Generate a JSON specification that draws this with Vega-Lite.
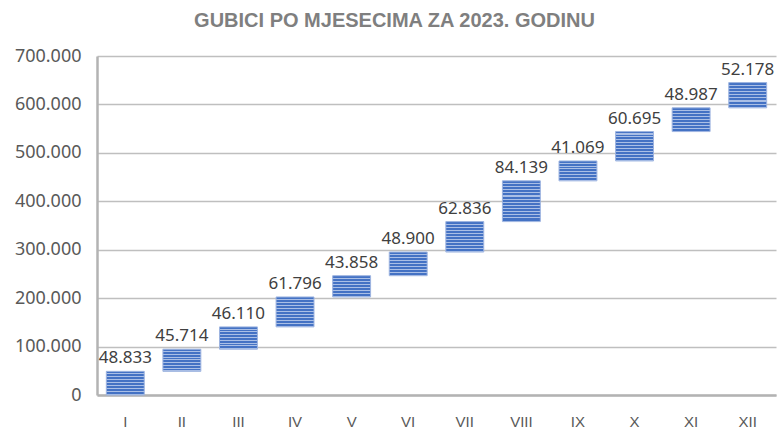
{
  "$schema": "https://vega.github.io/schema/vega-lite/v6.json",
  "width": 679,
  "height": 339,
  "autosize": {"type": "none"},
  "padding": {"left": 97, "top": 56, "right": 3, "bottom": 34},
  "background": "white",
  "title": {
    "text": "GUBICI PO MJESECIMA ZA 2023. GODINU",
    "font": "Liberation Sans",
    "fontSize": 20,
    "fontWeight": "bold",
    "color": "#7f7f7f",
    "anchor": "middle",
    "dx": -42,
    "offset": 16
  },
  "config": {
    "view": {"stroke": null}
  },
  "params": [
    {"name": "g7", "value": {"gradient": "linear", "x1": 0, "y1": 0, "x2": 0, "y2": 1, "stops": [
      {"offset": 0, "color": "#4472c4"}, {"offset": 0.0929, "color": "#4472c4"}, {"offset": 0.0929, "color": "#aabfe6"}, {"offset": 0.1429, "color": "#aabfe6"},
      {"offset": 0.1429, "color": "#4472c4"}, {"offset": 0.2357, "color": "#4472c4"}, {"offset": 0.2357, "color": "#aabfe6"}, {"offset": 0.2857, "color": "#aabfe6"},
      {"offset": 0.2857, "color": "#4472c4"}, {"offset": 0.3786, "color": "#4472c4"}, {"offset": 0.3786, "color": "#aabfe6"}, {"offset": 0.4286, "color": "#aabfe6"},
      {"offset": 0.4286, "color": "#4472c4"}, {"offset": 0.5214, "color": "#4472c4"}, {"offset": 0.5214, "color": "#aabfe6"}, {"offset": 0.5714, "color": "#aabfe6"},
      {"offset": 0.5714, "color": "#4472c4"}, {"offset": 0.6643, "color": "#4472c4"}, {"offset": 0.6643, "color": "#aabfe6"}, {"offset": 0.7143, "color": "#aabfe6"},
      {"offset": 0.7143, "color": "#4472c4"}, {"offset": 0.8071, "color": "#4472c4"}, {"offset": 0.8071, "color": "#aabfe6"}, {"offset": 0.8571, "color": "#aabfe6"},
      {"offset": 0.8571, "color": "#4472c4"}, {"offset": 0.95, "color": "#4472c4"}, {"offset": 0.95, "color": "#aabfe6"}, {"offset": 1, "color": "#aabfe6"}
    ]}},
    {"name": "g8", "value": {"gradient": "linear", "x1": 0, "y1": 0, "x2": 0, "y2": 1, "stops": [
      {"offset": 0, "color": "#4472c4"}, {"offset": 0.0813, "color": "#4472c4"}, {"offset": 0.0813, "color": "#aabfe6"}, {"offset": 0.125, "color": "#aabfe6"},
      {"offset": 0.125, "color": "#4472c4"}, {"offset": 0.2063, "color": "#4472c4"}, {"offset": 0.2063, "color": "#aabfe6"}, {"offset": 0.25, "color": "#aabfe6"},
      {"offset": 0.25, "color": "#4472c4"}, {"offset": 0.3313, "color": "#4472c4"}, {"offset": 0.3313, "color": "#aabfe6"}, {"offset": 0.375, "color": "#aabfe6"},
      {"offset": 0.375, "color": "#4472c4"}, {"offset": 0.4563, "color": "#4472c4"}, {"offset": 0.4563, "color": "#aabfe6"}, {"offset": 0.5, "color": "#aabfe6"},
      {"offset": 0.5, "color": "#4472c4"}, {"offset": 0.5813, "color": "#4472c4"}, {"offset": 0.5813, "color": "#aabfe6"}, {"offset": 0.625, "color": "#aabfe6"},
      {"offset": 0.625, "color": "#4472c4"}, {"offset": 0.7063, "color": "#4472c4"}, {"offset": 0.7063, "color": "#aabfe6"}, {"offset": 0.75, "color": "#aabfe6"},
      {"offset": 0.75, "color": "#4472c4"}, {"offset": 0.8313, "color": "#4472c4"}, {"offset": 0.8313, "color": "#aabfe6"}, {"offset": 0.875, "color": "#aabfe6"},
      {"offset": 0.875, "color": "#4472c4"}, {"offset": 0.9563, "color": "#4472c4"}, {"offset": 0.9563, "color": "#aabfe6"}, {"offset": 1, "color": "#aabfe6"}
    ]}},
    {"name": "g10", "value": {"gradient": "linear", "x1": 0, "y1": 0, "x2": 0, "y2": 1, "stops": [
      {"offset": 0, "color": "#4472c4"}, {"offset": 0.065, "color": "#4472c4"}, {"offset": 0.065, "color": "#aabfe6"}, {"offset": 0.1, "color": "#aabfe6"},
      {"offset": 0.1, "color": "#4472c4"}, {"offset": 0.165, "color": "#4472c4"}, {"offset": 0.165, "color": "#aabfe6"}, {"offset": 0.2, "color": "#aabfe6"},
      {"offset": 0.2, "color": "#4472c4"}, {"offset": 0.265, "color": "#4472c4"}, {"offset": 0.265, "color": "#aabfe6"}, {"offset": 0.3, "color": "#aabfe6"},
      {"offset": 0.3, "color": "#4472c4"}, {"offset": 0.365, "color": "#4472c4"}, {"offset": 0.365, "color": "#aabfe6"}, {"offset": 0.4, "color": "#aabfe6"},
      {"offset": 0.4, "color": "#4472c4"}, {"offset": 0.465, "color": "#4472c4"}, {"offset": 0.465, "color": "#aabfe6"}, {"offset": 0.5, "color": "#aabfe6"},
      {"offset": 0.5, "color": "#4472c4"}, {"offset": 0.565, "color": "#4472c4"}, {"offset": 0.565, "color": "#aabfe6"}, {"offset": 0.6, "color": "#aabfe6"},
      {"offset": 0.6, "color": "#4472c4"}, {"offset": 0.665, "color": "#4472c4"}, {"offset": 0.665, "color": "#aabfe6"}, {"offset": 0.7, "color": "#aabfe6"},
      {"offset": 0.7, "color": "#4472c4"}, {"offset": 0.765, "color": "#4472c4"}, {"offset": 0.765, "color": "#aabfe6"}, {"offset": 0.8, "color": "#aabfe6"},
      {"offset": 0.8, "color": "#4472c4"}, {"offset": 0.865, "color": "#4472c4"}, {"offset": 0.865, "color": "#aabfe6"}, {"offset": 0.9, "color": "#aabfe6"},
      {"offset": 0.9, "color": "#4472c4"}, {"offset": 0.965, "color": "#4472c4"}, {"offset": 0.965, "color": "#aabfe6"}, {"offset": 1, "color": "#aabfe6"}
    ]}},
    {"name": "g13", "value": {"gradient": "linear", "x1": 0, "y1": 0, "x2": 0, "y2": 1, "stops": [
      {"offset": 0, "color": "#4472c4"}, {"offset": 0.05, "color": "#4472c4"}, {"offset": 0.05, "color": "#aabfe6"}, {"offset": 0.0769, "color": "#aabfe6"},
      {"offset": 0.0769, "color": "#4472c4"}, {"offset": 0.1269, "color": "#4472c4"}, {"offset": 0.1269, "color": "#aabfe6"}, {"offset": 0.1538, "color": "#aabfe6"},
      {"offset": 0.1538, "color": "#4472c4"}, {"offset": 0.2038, "color": "#4472c4"}, {"offset": 0.2038, "color": "#aabfe6"}, {"offset": 0.2308, "color": "#aabfe6"},
      {"offset": 0.2308, "color": "#4472c4"}, {"offset": 0.2808, "color": "#4472c4"}, {"offset": 0.2808, "color": "#aabfe6"}, {"offset": 0.3077, "color": "#aabfe6"},
      {"offset": 0.3077, "color": "#4472c4"}, {"offset": 0.3577, "color": "#4472c4"}, {"offset": 0.3577, "color": "#aabfe6"}, {"offset": 0.3846, "color": "#aabfe6"},
      {"offset": 0.3846, "color": "#4472c4"}, {"offset": 0.4346, "color": "#4472c4"}, {"offset": 0.4346, "color": "#aabfe6"}, {"offset": 0.4615, "color": "#aabfe6"},
      {"offset": 0.4615, "color": "#4472c4"}, {"offset": 0.5115, "color": "#4472c4"}, {"offset": 0.5115, "color": "#aabfe6"}, {"offset": 0.5385, "color": "#aabfe6"},
      {"offset": 0.5385, "color": "#4472c4"}, {"offset": 0.5885, "color": "#4472c4"}, {"offset": 0.5885, "color": "#aabfe6"}, {"offset": 0.6154, "color": "#aabfe6"},
      {"offset": 0.6154, "color": "#4472c4"}, {"offset": 0.6654, "color": "#4472c4"}, {"offset": 0.6654, "color": "#aabfe6"}, {"offset": 0.6923, "color": "#aabfe6"},
      {"offset": 0.6923, "color": "#4472c4"}, {"offset": 0.7423, "color": "#4472c4"}, {"offset": 0.7423, "color": "#aabfe6"}, {"offset": 0.7692, "color": "#aabfe6"},
      {"offset": 0.7692, "color": "#4472c4"}, {"offset": 0.8192, "color": "#4472c4"}, {"offset": 0.8192, "color": "#aabfe6"}, {"offset": 0.8462, "color": "#aabfe6"},
      {"offset": 0.8462, "color": "#4472c4"}, {"offset": 0.8962, "color": "#4472c4"}, {"offset": 0.8962, "color": "#aabfe6"}, {"offset": 0.9231, "color": "#aabfe6"},
      {"offset": 0.9231, "color": "#4472c4"}, {"offset": 0.9731, "color": "#4472c4"}, {"offset": 0.9731, "color": "#aabfe6"}, {"offset": 1, "color": "#aabfe6"}
    ]}}
  ],
  "data": {
    "values": [
      {"m": 1, "mjesec": "I", "gubici": 48833},
      {"m": 2, "mjesec": "II", "gubici": 45714},
      {"m": 3, "mjesec": "III", "gubici": 46110},
      {"m": 4, "mjesec": "IV", "gubici": 61796},
      {"m": 5, "mjesec": "V", "gubici": 43858},
      {"m": 6, "mjesec": "VI", "gubici": 48900},
      {"m": 7, "mjesec": "VII", "gubici": 62836},
      {"m": 8, "mjesec": "VIII", "gubici": 84139},
      {"m": 9, "mjesec": "IX", "gubici": 41069},
      {"m": 10, "mjesec": "X", "gubici": 60695},
      {"m": 11, "mjesec": "XI", "gubici": 48987},
      {"m": 12, "mjesec": "XII", "gubici": 52178}
    ]
  },
  "transform": [
    {"window": [{"op": "sum", "field": "gubici", "as": "kraj"}], "sort": [{"field": "m"}]},
    {"calculate": "datum.kraj - datum.gubici", "as": "pocetak"}
  ],
  "encoding": {
    "x": {
      "field": "mjesec",
      "type": "nominal",
      "sort": null,
      "scale": {"paddingInner": 0.33, "paddingOuter": 0.165},
      "axis": {
        "title": null,
        "labelAngle": 0,
        "labelFont": "Liberation Sans",
        "labelFontSize": 15,
        "labelColor": "#595959",
        "labelPadding": 19,
        "ticks": false,
        "domainColor": "#b3b3b3",
        "domainWidth": 2.5,
        "grid": false
      }
    }
  },
  "layer": [
    {
      "mark": {
        "type": "bar",
        "fill": {"expr": "datum.gubici < 45000 ? g7 : datum.gubici < 55000 ? g8 : datum.gubici < 70000 ? g10 : g13"},
        "stroke": "#9db4e0",
        "strokeWidth": 1
      },
      "encoding": {
        "y": {
          "field": "pocetak",
          "type": "quantitative",
          "scale": {"domain": [0, 700000], "nice": false},
          "axis": {
            "title": null,
            "values": [0, 100000, 200000, 300000, 400000, 500000, 600000, 700000],
            "labelExpr": "replace(format(datum.value, ','), ',', '.')",
            "labelFont": "Noto Sans",
            "labelFontSize": 18,
            "labelColor": "#595959",
            "labelPadding": 16,
            "ticks": false,
            "domainColor": "#b3b3b3",
            "domainWidth": 2.5,
            "gridColor": "#bfbfbf",
            "gridWidth": 1.5
          }
        },
        "y2": {"field": "kraj"}
      }
    },
    {
      "mark": {
        "type": "text",
        "baseline": "bottom",
        "dy": -4,
        "font": "Noto Sans",
        "fontSize": 17,
        "color": "#404040",
        "text": {"expr": "replace(format(datum.gubici, ','), ',', '.')"}
      },
      "encoding": {
        "y": {"field": "kraj", "type": "quantitative"}
      }
    }
  ]
}
